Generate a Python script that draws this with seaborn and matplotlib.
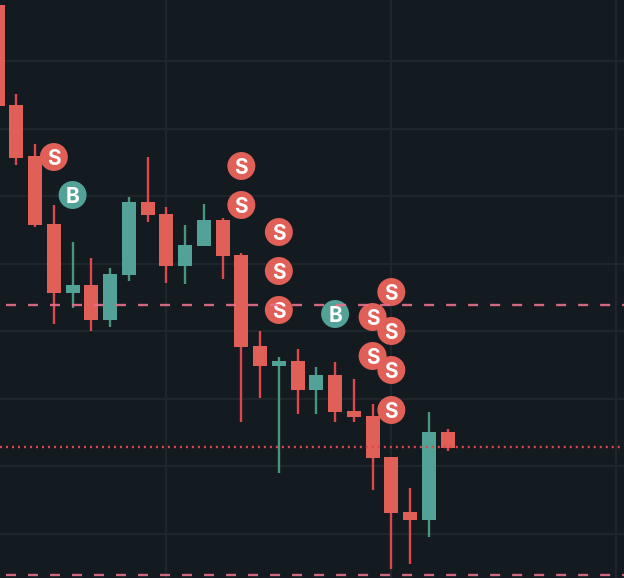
import matplotlib
matplotlib.use("Agg")
import numpy as np
import pandas as pd
import matplotlib.pyplot as plt
import seaborn as sns

# candles, values (price scale is just image rows, no labels on it)
candle_open = [5, 105, 156, 224, 293, 285, 320, 275, 202, 214, 266, 246, 220, 255, 346, 366, 361, 390, 375, 411, 416, 457, 512, 520, 432]
candle_close = [106, 158, 225, 293, 285, 320, 274, 202, 215, 266, 245, 220, 256, 347, 366, 361, 390, 375, 412, 417, 458, 513, 520, 432, 448]
candle_high = [0, 94, 144, 205, 242, 258, 268, 197, 157, 207, 225, 204, 218, 253, 331, 357, 349, 367, 362, 379, 404, 457, 488, 412, 429]
candle_low = [106, 165, 227, 324, 308, 331, 327, 281, 222, 283, 284, 246, 279, 422, 398, 473, 414, 414, 422, 422, 490, 569, 564, 537, 451]

sell_idx = [3, 13, 13, 15, 15, 15, 21, 20, 21, 20, 21, 21]
sell_price = [157, 166, 205, 232, 271, 310, 292, 317, 331, 356, 370, 410]
buy_idx = [4, 18]
buy_price = [195, 314]

grid_prices = [61, 129, 196, 264, 331, 399, 466, 534]
grid_idx = [9, 21, 33]
dashed_prices = [305, 575]
dotted_price = 447

BG = "#131a20"
GRID = "#1e252b"
RED = "#e05f57"
RED_WICK = "#e0474c"
GREEN = "#52a297"
GREEN_WICK = "#4a9580"
DASH = "#e8708c"

sns.set_theme(style="dark")
plt.rcParams["font.family"] = ["Inter", "DejaVu Sans"]

df = pd.DataFrame({"open": candle_open, "close": candle_close, "high": candle_high, "low": candle_low})
df["idx"] = df.index
df["up"] = df["close"] < df["open"]  # rows grow downward

fig = plt.figure(figsize=(6.24, 5.78), dpi=100, facecolor=BG)
ax = fig.add_axes([0, 0, 1, 1], facecolor=BG)

for p in grid_prices:
    ax.axhline(p, color=GRID, lw=1.44, zorder=1)
for i in grid_idx:
    ax.axvline(i, color=GRID, lw=1.44, zorder=1)

for _, row in df.iterrows():
    wick = GREEN_WICK if row["up"] else RED_WICK
    body = GREEN if row["up"] else RED
    ax.vlines(row["idx"], row["high"], row["low"], color=wick, lw=1.7, zorder=2)
    top = min(row["open"], row["close"])
    ax.bar(row["idx"], abs(row["close"] - row["open"]), bottom=top, width=0.7467, color=body, lw=0, zorder=3)

ax.plot([0.128, 33.2], [dotted_price, dotted_price], color=RED_WICK, lw=1.7, dashes=(0.85, 1.69), zorder=3.5)

sns.scatterplot(x=sell_idx, y=sell_price, s=406, color=RED, edgecolor="none", legend=False, ax=ax, zorder=4)
sns.scatterplot(x=buy_idx, y=buy_price, s=406, color=GREEN, edgecolor="none", legend=False, ax=ax, zorder=4)
for x, y in zip(sell_idx, sell_price):
    ax.text(x, y, "S", color="white", fontsize=15, fontweight="bold", ha="center", va="center_baseline", zorder=5)
for x, y in zip(buy_idx, buy_price):
    ax.text(x, y, "B", color="white", fontsize=15, fontweight="bold", ha="center", va="center_baseline", zorder=5)

for p in dashed_prices:
    ax.plot([0.448, 33.408], [p, p], color=DASH, lw=1.7, alpha=0.9, dashes=(4.24, 5.08), zorder=6)

ax.set_xlim(0.128, 33.408)
ax.set_ylim(578, 0)
ax.set_xticks([])
ax.set_yticks([])
ax.grid(False)
sns.despine(ax=ax, left=True, bottom=True)

fig.savefig("out.png", dpi=100, facecolor=BG)
